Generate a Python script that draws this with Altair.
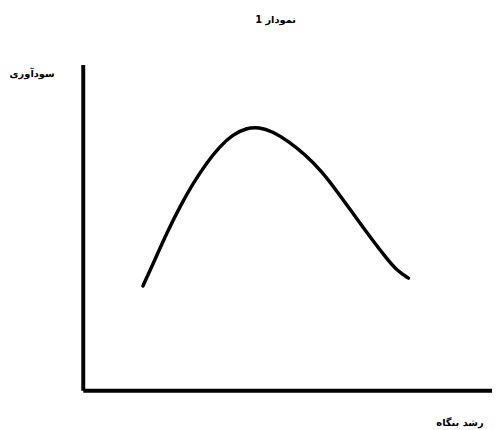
import altair as alt
import pandas as pd

title_text = "نمودار 1"
x_title = "رشد بنگاه"
y_title = "سودآوری"

growth = [14.7, 17.5, 20.7, 23.9, 27.1, 30.3, 33.5, 36.7, 39.9, 43.1,
          46.3, 50.3, 54.3, 58.3, 62.3, 66.3, 70.4, 74.4, 76.8, 79.6]
profit = [32.0, 39.7, 48.7, 56.8, 63.8, 69.9, 74.9, 78.5, 80.5, 80.8,
          79.5, 76.4, 72.4, 67.4, 60.8, 53.8, 46.7, 40.2, 36.7, 34.4]

df = pd.DataFrame({"growth": growth, "profit": profit})

FONT = "DejaVu Sans"

chart = alt.Chart(df).mark_line(
    color="black", strokeWidth=3.5, interpolate="basis", strokeCap="round"
).encode(
    x=alt.X("growth:Q", scale=alt.Scale(domain=[0, 100], nice=False),
            axis=alt.Axis(title=x_title, labels=False, ticks=False, grid=False,
                          domainWidth=4, domainColor="black",
                          titleX=383, titleY=28, titleAlign="center",
                          titleFont=FONT, titleFontSize=10, titleFontWeight="bold",
                          titleColor="black")),
    y=alt.Y("profit:Q", scale=alt.Scale(domain=[0, 100], nice=False),
            axis=alt.Axis(title=y_title, labels=False, ticks=False, grid=False,
                          domainWidth=4, domainColor="black",
                          titleAngle=0, titleX=-52, titleY=9, titleAlign="center",
                          titleBaseline="middle",
                          titleFont=FONT, titleFontSize=10, titleFontWeight="bold",
                          titleColor="black")),
).properties(
    width=416,
    height=331,
    title=alt.TitleParams(text=title_text, font=FONT, fontSize=10, fontWeight="bold",
                          color="black", dx=-12, offset=40),
    autosize=alt.AutoSizeParams(type="none"),
    padding={"left": 76, "top": 54, "right": 0, "bottom": 40},
).configure_view(stroke=None)

chart.save("out.html", embed_options={"renderer": "svg", "actions": False})
